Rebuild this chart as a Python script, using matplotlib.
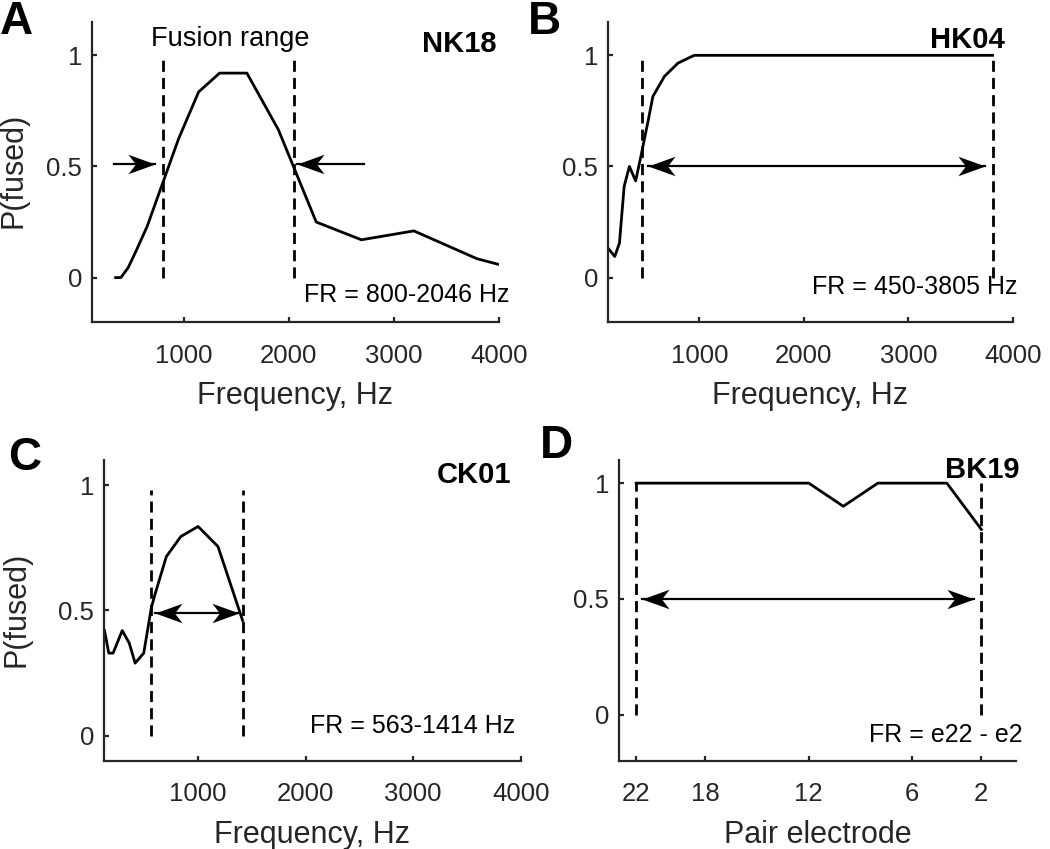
import matplotlib
matplotlib.use("Agg")
import matplotlib.pyplot as plt
from matplotlib.path import Path

plt.rcParams['font.family'] = ['Liberation Sans', 'DejaVu Sans']

# panel A - NK18
freq_a = [350, 400, 470, 550, 650, 950, 1140, 1340, 1600, 1900, 2260, 2690, 3190, 3790, 3990]
p_a = [0, 0, 0.045, 0.125, 0.23, 0.625, 0.835, 0.92, 0.92, 0.665, 0.25, 0.17, 0.21, 0.085, 0.06]
fr_a = [800, 2046]

# panel B - HK04
freq_b = [130, 190, 235, 280, 330, 390, 440, 505, 555, 665, 795, 950, 3805]
p_b = [0.13, 0.095, 0.155, 0.41, 0.5, 0.435, 0.545, 0.695, 0.815, 0.905, 0.965, 1.0, 1.0]
fr_b = [450, 3805]

# panel C - CK01
freq_c = [130, 170, 210, 295, 360, 415, 495, 565, 600, 705, 840, 1000, 1185, 1414]
p_c = [0.42, 0.33, 0.33, 0.42, 0.37, 0.29, 0.33, 0.51, 0.565, 0.715, 0.795, 0.835, 0.755, 0.46]
fr_c = [563, 1414]

# panel D - BK19
elec_d = [22, 20, 18, 16, 14, 12, 10, 8, 6, 4, 2]
p_d = [1, 1, 1, 1, 1, 1, 0.9, 1, 1, 1, 0.8]
fr_d = [22, 2]

freq_ticks = [1000, 2000, 3000, 4000]
elec_ticks = [22, 18, 12, 6, 2]
p_ticks = [0, 0.5, 1]

gray = '#262626'
dash = (0, (4, 2.2))
LW = 2.0
NAME_FS = 21

# concave (matlab "vback") arrow heads, tip at the origin
head_r = Path([(0, 0), (-1, 0.36), (-0.72, 0), (-1, -0.36), (0, 0)],
              [Path.MOVETO, Path.LINETO, Path.LINETO, Path.LINETO, Path.CLOSEPOLY])
head_l = Path([(0, 0), (1, 0.36), (0.72, 0), (1, -0.36), (0, 0)],
              [Path.MOVETO, Path.LINETO, Path.LINETO, Path.LINETO, Path.CLOSEPOLY])

fig = plt.figure(figsize=(10.5, 8.49), dpi=100)
axA = fig.add_axes([0.0876, 0.6207, 0.3876, 0.3534])
axB = fig.add_axes([0.579, 0.6207, 0.3857, 0.3534])
axC = fig.add_axes([0.099, 0.1037, 0.397, 0.3545])
axD = fig.add_axes([0.5895, 0.1037, 0.378, 0.3545])


def style(ax):
    for s in ['top', 'right']:
        ax.spines[s].set_visible(False)
    for s in ['left', 'bottom']:
        ax.spines[s].set_linewidth(1.6)
        ax.spines[s].set_color(gray)
    ax.tick_params(direction='in', length=3.5, width=1.6, color=gray,
                   labelcolor=gray, labelsize=18.5)
    ax.tick_params(axis='x', pad=15.5)
    ax.tick_params(axis='y', pad=7)
    ax.set_yticks(p_ticks)
    ax.set_yticklabels(['0', '0.5', '1'])


def arrow(ax, x0, x1, y, both=False):
    # shaft from x0 to x1, head at x1 (and at x0 if both)
    ax.plot([x0, x1], [y, y], color='black', lw=1.6)
    right = (x1 > x0) != ax.xaxis_inverted()
    ax.plot([x1], [y], marker=head_r if right else head_l, ms=39,
            color='black', mew=0, linestyle='none')
    if both:
        ax.plot([x0], [y], marker=head_l if right else head_r, ms=39,
                color='black', mew=0, linestyle='none')


# A
axA.plot(freq_a, p_a, color='black', lw=LW)
for f in fr_a:
    axA.plot([f, f], [0, 1], color='black', lw=LW, linestyle=dash)
axA.set_xlim(125, 4000)
axA.set_ylim(-0.2, 1.15)
arrow(axA, 330, 725, 0.51)
arrow(axA, 2716, 2077, 0.51)
axA.set_xticks(freq_ticks)
axA.text(0.34, 0.921, 'Fusion range', transform=axA.transAxes, ha='center',
         va='baseline', fontsize=19.5)
axA.text(0.995, 0.9, 'NK18', transform=axA.transAxes, ha='right', va='baseline',
         fontsize=NAME_FS, fontweight='bold')
axA.text(1.027, 0.068, 'FR = 800-2046 Hz', transform=axA.transAxes, ha='right',
         va='baseline', fontsize=18)
axA.set_xlabel('Frequency, Hz', fontsize=22, color=gray, labelpad=10)
axA.set_ylabel('P(fused)', fontsize=22, color=gray)
axA.yaxis.set_label_coords(-0.157, 0.507)

# B
axB.plot(freq_b, p_b, color='black', lw=LW)
for f in fr_b:
    axB.plot([f, f], [0, 1], color='black', lw=LW, linestyle=dash)
axB.set_xlim(125, 4000)
axB.set_ylim(-0.2, 1.15)
arrow(axB, 505, 3730, 0.5, both=True)
axB.set_xticks(freq_ticks)
axB.text(0.98, 0.912, 'HK04', transform=axB.transAxes, ha='right', va='baseline',
         fontsize=NAME_FS, fontweight='bold')
axB.text(1.012, 0.093, 'FR = 450-3805 Hz', transform=axB.transAxes, ha='right',
         va='baseline', fontsize=18)
axB.set_xlabel('Frequency, Hz', fontsize=22, color=gray, labelpad=10)

# C
axC.plot(freq_c, p_c, color='black', lw=LW)
for f in fr_c:
    axC.plot([f, f], [0, 0.98], color='black', lw=LW, linestyle=dash)
axC.set_xlim(125, 4000)
axC.set_ylim(-0.1, 1.1)
arrow(axC, 597, 1381, 0.49, both=True)
axC.set_xticks(freq_ticks)
axC.text(0.978, 0.922, 'CK01', transform=axC.transAxes, ha='right', va='baseline',
         fontsize=NAME_FS, fontweight='bold')
axC.text(0.986, 0.092, 'FR = 563-1414 Hz', transform=axC.transAxes, ha='right',
         va='baseline', fontsize=18)
axC.set_xlabel('Frequency, Hz', fontsize=22, color=gray, labelpad=10)
axC.set_ylabel('P(fused)', fontsize=22, color=gray)
axC.yaxis.set_label_coords(-0.173, 0.505)

# D
axD.plot(elec_d, p_d, color='black', lw=LW)
for e in fr_d:
    axD.plot([e, e], [0, 1], color='black', lw=LW, linestyle=dash)
axD.set_xlim(23, 0)
axD.set_ylim(-0.2, 1.1)
arrow(axD, 21.65, 2.43, 0.5, both=True)
axD.set_xticks(elec_ticks)
axD.text(1.01, 0.939, 'BK19', transform=axD.transAxes, ha='right', va='baseline',
         fontsize=NAME_FS, fontweight='bold')
axD.text(1.018, 0.064, 'FR = e22 - e2', transform=axD.transAxes, ha='right',
         va='baseline', fontsize=18)
axD.set_xlabel('Pair electrode', fontsize=22, color=gray, labelpad=10)

for ax in [axA, axB, axC, axD]:
    style(ax)

fig.text(0.0, 1 - 34 / 849, 'A', fontsize=33, fontweight='bold', va='baseline')
fig.text(528 / 1050, 1 - 34 / 849, 'B', fontsize=33, fontweight='bold', va='baseline')
fig.text(8 / 1050, 1 - 470 / 849, 'C', fontsize=33, fontweight='bold', va='baseline')
fig.text(540 / 1050, 1 - 458 / 849, 'D', fontsize=33, fontweight='bold', va='baseline')

fig.savefig('out.png', dpi=100)
plt.close(fig)
